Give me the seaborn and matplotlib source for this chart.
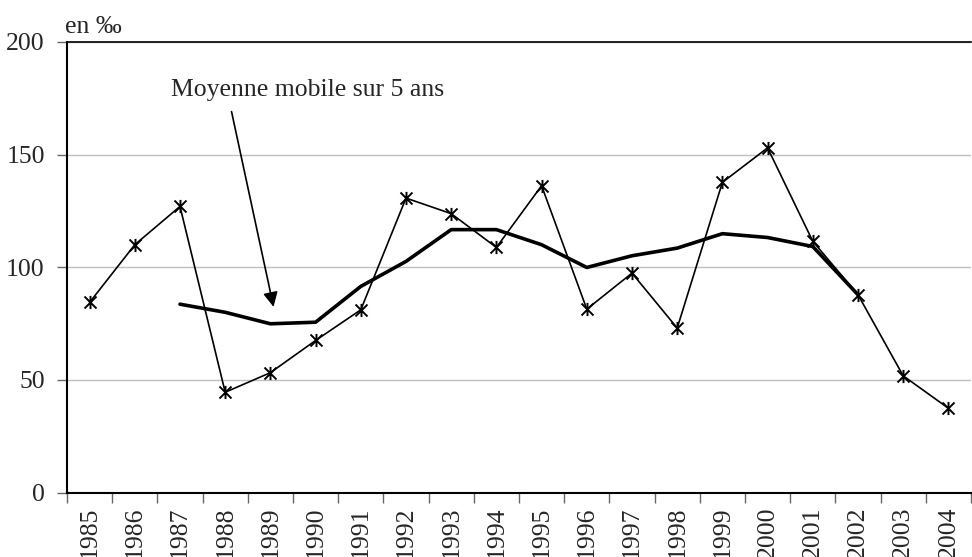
import numpy as np
import pandas as pd
import matplotlib
matplotlib.use("Agg")
import matplotlib.pyplot as plt
from matplotlib.path import Path
from matplotlib.ticker import FixedLocator
import seaborn as sns

# data
years = list(range(1985, 2005))
rate = [84.4, 110, 127, 44.5, 53.2, 67.5, 81.1, 130.7, 123.8, 108.8,
        136.2, 81.4, 97.4, 73, 137.7, 153, 111.5, 87.8, 51.8, 37.4]
ma_years = list(range(1987, 2003))
ma_rate = [83.6, 80, 74.9, 75.6, 91.5, 102.6, 116.7, 116.7, 110, 99.9,
           105.1, 108.5, 114.9, 113.2, 109.2, 87.8]

df = pd.DataFrame({"idx": np.arange(len(years)), "rate": rate})
df_ma = pd.DataFrame({"idx": [years.index(y) for y in ma_years], "rate": ma_rate})

sns.set_style("white")
plt.rcParams["font.family"] = ["Liberation Serif", "DejaVu Serif"]
plt.rcParams["font.size"] = 18.5

# asterisk-like marker: an X with a vertical stroke
star = Path([(-1, -1), (1, 1), (-1, 1), (1, -1), (0, -1.1), (0, 1.1)],
            [Path.MOVETO, Path.LINETO] * 3)

fig = plt.figure(figsize=(9.72, 5.57), dpi=100)
ax = fig.add_axes([67 / 972, 1 - 492.5 / 557, 904 / 972, 450.5 / 557])

sns.lineplot(data=df, x="idx", y="rate", ax=ax, color="black", lw=1.2,
             marker=star, markersize=9.5, markeredgecolor="black",
             markeredgewidth=1.4, estimator=None, sort=False)
sns.lineplot(data=df_ma, x="idx", y="rate", ax=ax, color="black", lw=2.6,
             estimator=None, sort=False)

ax.set_xlim(-0.5, len(years) - 0.5)
ax.set_ylim(0, 200)
ax.set_yticks([0, 50, 100, 150, 200])
ax.yaxis.grid(True, color="#c0c0c0", lw=1)
ax.set_axisbelow(True)

ax.set_xticks(np.arange(len(years)))
ax.set_xticklabels([str(y) for y in years], rotation=90, va="top")
ax.xaxis.set_minor_locator(FixedLocator(np.arange(-0.5, len(years), 1.0)))
ax.tick_params(axis="x", which="major", length=0, pad=10, labelsize=18.5)
ax.tick_params(axis="x", which="minor", length=7, width=1, color="#666666",
               direction="out", bottom=True)
ax.tick_params(axis="y", length=7, width=1, color="#666666", direction="out",
               left=True, pad=9, labelsize=18.5)

ax.set_xlabel("")
ax.set_ylabel("")
for side in ["left", "bottom", "top"]:
    ax.spines[side].set_visible(True)
    ax.spines[side].set_color("black")
    ax.spines[side].set_linewidth(1.5)
ax.spines["right"].set_visible(False)
ax.spines["top"].set_linewidth(1.2)

ax.text(4.82, 178.9, "Moyenne mobile sur 5 ans", ha="center", va="center",
        fontsize=18.5)
ax.annotate("", xy=(4.07, 82.4), xytext=(3.14, 169.1),
            arrowprops=dict(arrowstyle="-|>", color="black", lw=1.2,
                            mutation_scale=22, shrinkA=0, shrinkB=0))

fig.text(65 / 972, 1 - 27 / 557, "en ‰", ha="left", va="center", fontsize=18.5)

fig.savefig("out.png", dpi=100)
plt.close()
